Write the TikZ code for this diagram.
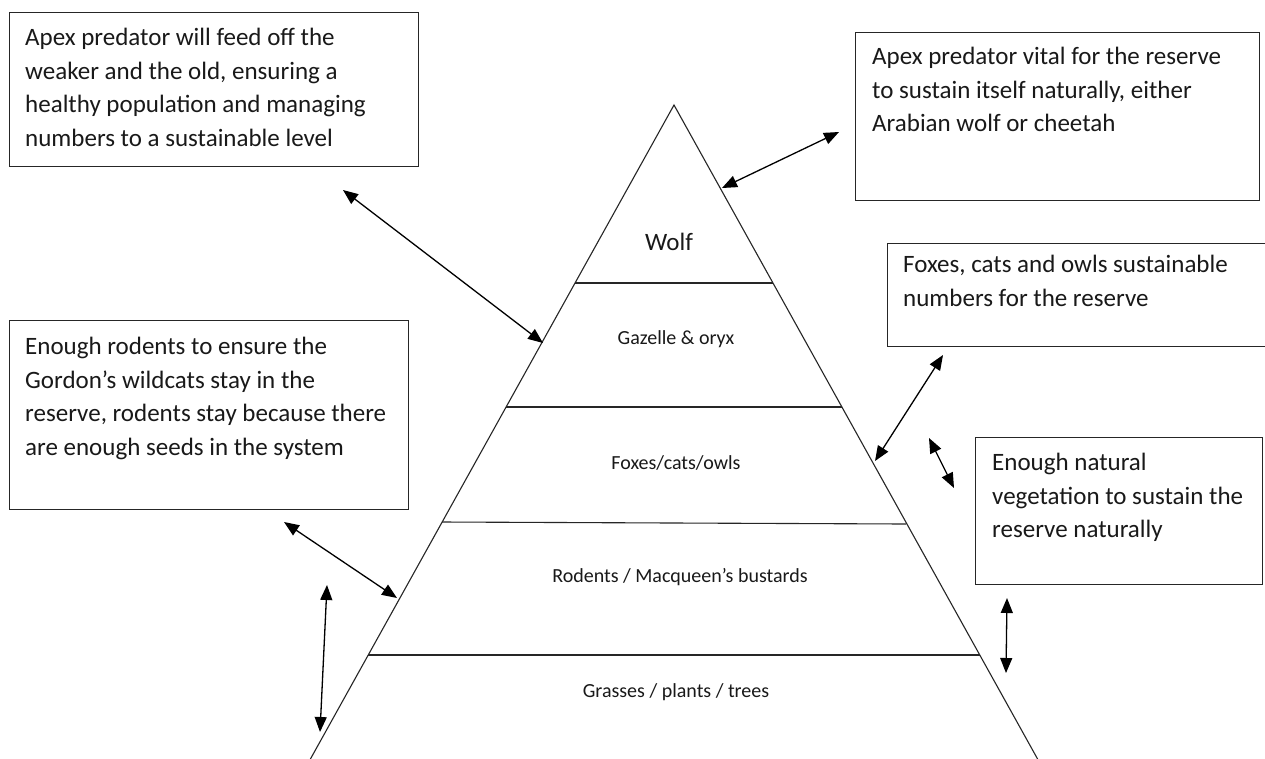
\documentclass[tikz,border=0pt]{standalone}
\usepackage{fontspec}
\setmainfont{Carlito}
\usetikzlibrary{arrows.meta}
\begin{document}
\begin{tikzpicture}[x=1pt,y=-1pt,
  infobox/.style={draw=black!85,line width=1.2pt,inner sep=0pt,anchor=north west},
  infotext/.style={anchor=north west,align=left,inner sep=0pt,font=\fontsize{25}{33.5}\selectfont,text=black!90},
  tierlabel/.style={font=\fontsize{20}{24}\selectfont,text=black!90,inner sep=0pt},
  tierline/.style={line width=1.1pt,draw=black!85},
  dbl/.style={line width=1.3pt,{Triangle[length=15pt,width=12pt]}-{Triangle[length=15pt,width=12pt]}}
]
\useasboundingbox (0,0) rectangle (1265,758);
\fill[white] (0,0) rectangle (1265,758);

% pyramid
\coordinate (apex) at (674,105);
\coordinate (bl) at (304.3,770);
\coordinate (br) at (1043.7,770);
\draw[tierline] (bl) -- (apex) -- (br);
\draw[tierline] (575,283) -- (773,283);
\draw[tierline] (506,407) -- (842,407);
\draw[tierline] (442,522) -- (906,524);
\draw[tierline] (368,655) -- (980,655);

% tier labels
\node[font=\fontsize{25}{30}\selectfont,text=black!90,inner sep=0pt] (wolf) at (669,242) {Wolf};
\node[tierlabel] (gazelle) at (676,339) {Gazelle \& oryx};
\node[tierlabel] (foxes) at (676,463) {Foxes/cats/owls};
\node[tierlabel] (rodents) at (680,577) {Rodents / Macqueen’s bustards};
\node[tierlabel] (grasses) at (676,692) {Grasses / plants / trees};

% boxes
\node[infobox,minimum width=409pt,minimum height=154pt] (boxA) at (9,12) {};
\node[infotext] (textA) at (25,28) {Apex predator will feed off the\\weaker and the old, ensuring a\\healthy population and managing\\numbers to a sustainable level};

\node[infobox,minimum width=404pt,minimum height=168pt] (boxB) at (855,32) {};
\node[infotext] (textB) at (872,47) {Apex predator vital for the reserve\\to sustain itself naturally, either\\Arabian wolf or cheetah};

\node[infobox,minimum width=399pt,minimum height=189pt] (boxC) at (9,320) {};
\node[infotext] (textC) at (25,337) {Enough rodents to ensure the\\Gordon’s wildcats stay in the\\reserve, rodents stay because there\\are enough seeds in the system};

\node[infobox,minimum width=378pt,minimum height=103pt] (boxD) at (887,243) {};
\node[infotext] (textD) at (903,255) {Foxes, cats and owls sustainable\\numbers for the reserve};

\node[infobox,minimum width=287pt,minimum height=147pt] (boxE) at (975,437) {};
\node[infotext] (textE) at (992,453) {Enough natural\\vegetation to sustain the\\reserve naturally};

% arrow end points
\coordinate (a1s) at (722,188);
\coordinate (a1e) at (839,132);
\coordinate (a2s) at (343,190);
\coordinate (a2e) at (543,343);
\coordinate (a3s) at (875,461);
\coordinate (a3e) at (943,355);
\coordinate (a4s) at (929,438);
\coordinate (a4e) at (954,488);
\coordinate (a5s) at (284,522);
\coordinate (a5e) at (397,598);
\coordinate (a6s) at (327,585);
\coordinate (a6e) at (320,732);
\coordinate (a7s) at (1007,598);
\coordinate (a7e) at (1006,673);

\draw[dbl] (a1s) -- (a1e);
\draw[dbl] (a2s) -- (a2e);
\draw[dbl] (a3s) -- (a3e);
\draw[dbl] (a4s) -- (a4e);
\draw[dbl] (a5s) -- (a5e);
\draw[dbl] (a6s) -- (a6e);
\draw[dbl] (a7s) -- (a7e);
\end{tikzpicture}
\end{document}
